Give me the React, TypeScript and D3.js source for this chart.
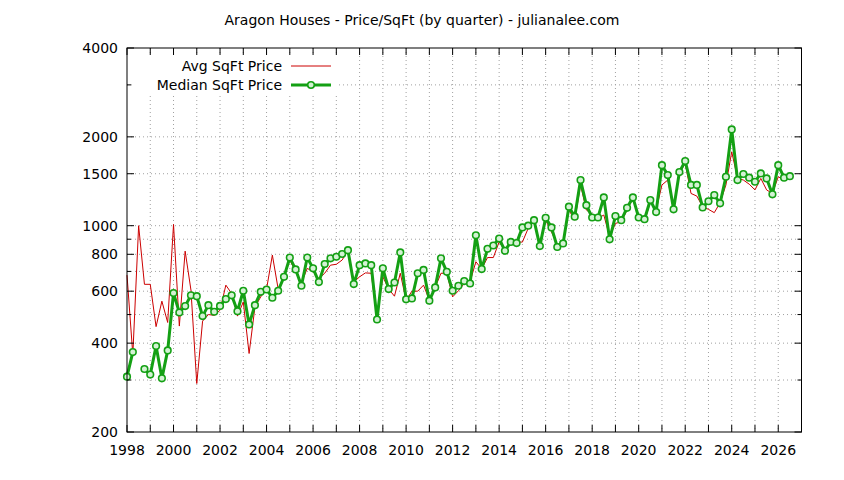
import React, { useEffect, useRef } from 'react';
import * as d3 from 'd3';

// quarterly data, starting 1998 Q1
const startYear = 1998;
const avgPrice = [
  680, 365, 1000, 633, 633, 455, 555, 470, 1010, 457, 820, 605, 292, 475, 500, 497,
  517, 629, 589, 494, 552, 369, 530, 574, 610, 795, 610, 671, 765, 698, 640, 717,
  698, 662, 690, 735, 740, 765, 826, 645, 671, 692, 690, 485, 671, 610, 577, 690,
  559, 600, 600, 629, 559, 618, 690, 690, 574, 602, 637, 645, 755, 713, 780, 780,
  881, 826, 866, 880, 880, 980, 1031, 853, 1044, 953, 865, 871, 1130, 1044, 1374, 1130,
  1095, 1059, 1087, 917, 1018, 1031, 1130, 1237, 1078, 1031, 1205, 1130, 1374, 1428, 1136, 1504,
  1626, 1286, 1260, 1160, 1136, 1107, 1196, 1374, 1780, 1446, 1428, 1383, 1322, 1446, 1322, 1286,
  1465, 1428, 1465,
];
const medianPrice: (number | null)[] = [
  308, 373, null, 327, 313, 391, 304, 378, 591, 508, 534, 581, 577, 494, 538, 511,
  535, 564, 581, 513, 602, 463, 538, 597, 608, 570, 602, 671, 780, 711, 626, 780,
  717, 644, 741, 775, 785, 802, 826, 634, 735, 745, 735, 481, 717, 610, 642, 812,
  563, 567, 690, 708, 557, 618, 775, 698, 602, 626, 649, 637, 928, 713, 835, 857,
  905, 822, 881, 873, 987, 1000, 1044, 853, 1063, 987, 847, 871, 1160, 1073, 1428, 1174,
  1066, 1066, 1247, 899, 1078, 1044, 1150, 1247, 1066, 1052, 1222, 1112, 1604, 1484, 1136, 1520,
  1655, 1374, 1374, 1153, 1210, 1270, 1191, 1465, 2120, 1428, 1497, 1454, 1409, 1504, 1446, 1277,
  1604, 1454, 1472,
];
const yTickLabels = [200, 400, 600, 800, 1000, 1500, 2000, 4000];
const yMinorTicks = [300, 500, 700, 900, 3000];
const xTickYears = d3.range(1998, 2028);

const W = 844;
const H = 480;
const FONT = "'DejaVu Sans', sans-serif";
const RED = '#cc0000';
const GREEN = '#14a014';

const App: React.FC = () => {
  const svgRef = useRef<SVGSVGElement>(null);

  useEffect(() => {
    if (!svgRef.current) return;
    const svg = d3.select(svgRef.current);
    svg.selectAll('*').remove();

    const left = 127, right = 801.5, top = 48, bottom = 432;
    const x = d3.scaleLinear().domain([1998, 2027]).range([left, right]);
    const y = d3.scaleLog().domain([200, 4000]).range([bottom, top]);
    const qx = (i: number) => x(startYear + i / 4);

    svg.append('rect').attr('width', W).attr('height', H).attr('fill', '#fff');

    // title
    svg.append('text')
      .attr('x', W / 2).attr('y', 25)
      .attr('text-anchor', 'middle')
      .attr('font-family', FONT).attr('font-size', 14)
      .text('Aragon Houses - Price/SqFt (by quarter) - julianalee.com');

    // grid
    const grid = svg.append('g')
      .attr('stroke', '#a0a0a0').attr('stroke-width', 1).attr('stroke-dasharray', '1,3');
    xTickYears.filter(v => v > 1998 && v < 2027).forEach(v => {
      grid.append('line').attr('x1', x(v)).attr('x2', x(v)).attr('y1', top).attr('y2', bottom);
    });
    [...yTickLabels, ...yMinorTicks].filter(v => v > 200 && v < 4000).forEach(v => {
      grid.append('line').attr('x1', left).attr('x2', right).attr('y1', y(v)).attr('y2', y(v));
    });

    // key box (opaque)
    svg.append('rect').attr('x', 133).attr('y', 55).attr('width', 205).attr('height', 40).attr('fill', '#fff');

    // avg line
    const avgLine = d3.line<number>()
      .x((_, i) => qx(i))
      .y(d => y(d));
    svg.append('path')
      .attr('d', avgLine(avgPrice) || '')
      .attr('fill', 'none').attr('stroke', RED).attr('stroke-width', 1);

    // median line with gaps
    const medLine = d3.line<number | null>()
      .defined(d => d != null)
      .x((_, i) => qx(i))
      .y(d => y(d as number));
    svg.append('path')
      .attr('d', medLine(medianPrice) || '')
      .attr('fill', 'none').attr('stroke', GREEN).attr('stroke-width', 3)
      .attr('stroke-linejoin', 'round');
    svg.append('g').selectAll('circle')
      .data(medianPrice.map((d, i) => ({ d, i })).filter(p => p.d != null))
      .join('circle')
      .attr('cx', p => qx(p.i)).attr('cy', p => y(p.d as number))
      .attr('r', 3.3)
      .attr('fill', '#d4f2d4').attr('stroke', GREEN).attr('stroke-width', 1.6);

    // frame and ticks
    const axis = svg.append('g').attr('stroke', '#000').attr('stroke-width', 1);
    xTickYears.forEach(v => {
      axis.append('line').attr('x1', x(v)).attr('x2', x(v)).attr('y1', bottom).attr('y2', bottom - 7);
      axis.append('line').attr('x1', x(v)).attr('x2', x(v)).attr('y1', top).attr('y2', top + 7);
    });
    yTickLabels.forEach(v => {
      axis.append('line').attr('x1', left).attr('x2', left + 7).attr('y1', y(v)).attr('y2', y(v));
      axis.append('line').attr('x1', right).attr('x2', right - 7).attr('y1', y(v)).attr('y2', y(v));
    });
    yMinorTicks.forEach(v => {
      axis.append('line').attr('x1', left).attr('x2', left + 4).attr('y1', y(v)).attr('y2', y(v));
      axis.append('line').attr('x1', right).attr('x2', right - 4).attr('y1', y(v)).attr('y2', y(v));
    });
    axis.append('rect')
      .attr('x', left).attr('y', top).attr('width', right - left).attr('height', bottom - top)
      .attr('fill', 'none');

    // tick labels
    svg.append('g').selectAll('text')
      .data(xTickYears.filter(v => v % 2 === 0))
      .join('text')
      .attr('x', d => x(d)).attr('y', 455)
      .attr('text-anchor', 'middle')
      .attr('font-family', FONT).attr('font-size', 14)
      .text(d => String(d));
    svg.append('g').selectAll('text')
      .data(yTickLabels)
      .join('text')
      .attr('x', 118).attr('y', d => y(d)).attr('dy', '0.36em')
      .attr('text-anchor', 'end')
      .attr('font-family', FONT).attr('font-size', 14)
      .text(d => String(d));

    // key
    const key = svg.append('g').attr('font-family', FONT).attr('font-size', 14);
    key.append('text').attr('x', 282).attr('y', 66).attr('dy', '0.36em').attr('text-anchor', 'end').text('Avg SqFt Price');
    key.append('line').attr('x1', 291).attr('x2', 331).attr('y1', 66).attr('y2', 66).attr('stroke', RED).attr('stroke-width', 1);
    key.append('text').attr('x', 282).attr('y', 85).attr('dy', '0.36em').attr('text-anchor', 'end').text('Median SqFt Price');
    key.append('line').attr('x1', 291).attr('x2', 331).attr('y1', 85).attr('y2', 85).attr('stroke', GREEN).attr('stroke-width', 3);
    key.append('circle').attr('cx', 311).attr('cy', 85).attr('r', 3.3)
      .attr('fill', '#d4f2d4').attr('stroke', GREEN).attr('stroke-width', 1.6);
  }, []);

  return (
    <div style={{ position: 'absolute', left: 0, top: 0, width: W, height: H }}>
      <svg ref={svgRef} width={W} height={H} style={{ display: 'block' }} />
    </div>
  );
};

export default App;
